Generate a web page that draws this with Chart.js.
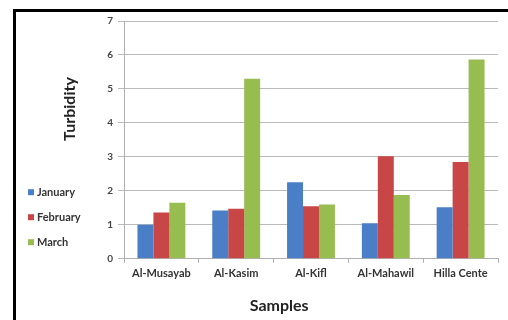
<!DOCTYPE html>
<html>
<head>
<meta charset="utf-8">
<script src="https://cdn.jsdelivr.net/npm/chart.js@4/dist/chart.umd.min.js"></script>
<style>
  html, body { margin: 0; padding: 0; background: #fff; }
  #wrap { position: relative; width: 508px; height: 320px; }
  #frame { position: absolute; left: 13px; top: 9px; right: -10px; bottom: -10px;
           border-left: 3px solid #000; border-top: 3px solid #000; pointer-events: none; }
</style>
</head>
<body>
<div id="wrap">
  <canvas id="chart" width="508" height="320"></canvas>
  <div id="frame"></div>
</div>
<script>
// Sampling sites along the river
const samples = ['Al-Musayab', 'Al-Kasim', 'Al-Kifl', 'Al-Mahawil', 'Hilla Cente'];

// Monthly turbidity readings per site
const january  = [1.0, 1.42, 2.25, 1.05, 1.52];
const february = [1.36, 1.47, 1.55, 3.02, 2.85];
const march    = [1.65, 5.3, 1.6, 1.88, 5.87];

const seriesNames = ['January', 'February', 'March'];
const seriesColors = ['#4a7ec6', '#c84646', '#97bd50'];

const yTicks = [0, 1, 2, 3, 4, 5, 6, 7];

const FONT = 'Lato, "Open Sans", sans-serif';

// Legend and axis titles drawn around the plot area
const decorations = {
  id: 'decorations',
  afterDraw(chart) {
    const { ctx, chartArea: a } = chart;
    ctx.save();
    // legend
    ctx.font = 'bold 11px ' + FONT;
    ctx.textBaseline = 'middle';
    ctx.textAlign = 'left';
    const lx = a.left - 96;
    const ly0 = a.top + (a.bottom - a.top) * 0.72;
    chart.data.datasets.forEach((ds, i) => {
      const y = ly0 + i * 25;
      ctx.fillStyle = ds.backgroundColor;
      ctx.fillRect(lx, y - 3, 6, 6);
      ctx.fillStyle = '#333';
      ctx.fillText(ds.label, lx + 9, y);
    });
    // y title
    ctx.font = 'bold 16px ' + FONT;
    ctx.fillStyle = '#222';
    ctx.textAlign = 'center';
    ctx.translate(a.left - 54, a.top + (a.bottom - a.top) * 0.37);
    ctx.rotate(-Math.PI / 2);
    ctx.fillText('Turbidity', 0, 0);
    ctx.restore();
    // x title
    ctx.save();
    ctx.font = 'bold 16px ' + FONT;
    ctx.fillStyle = '#222';
    ctx.textAlign = 'center';
    ctx.textBaseline = 'middle';
    ctx.fillText('Samples', a.left + (a.right - a.left) * 0.415, a.bottom + 47);
    ctx.restore();
  }
};

new Chart(document.getElementById('chart'), {
  type: 'bar',
  data: {
    labels: samples,
    datasets: [january, february, march].map((vals, i) => ({
      label: seriesNames[i],
      data: vals,
      backgroundColor: seriesColors[i],
      borderWidth: 0,
      barPercentage: 1.0,
      categoryPercentage: 0.64
    }))
  },
  options: {
    responsive: false,
    animation: false,
    layout: { padding: { left: 14, top: 21, right: 10, bottom: 36 } },
    plugins: { legend: { display: false }, tooltip: { enabled: false } },
    scales: {
      x: {
        grid: { display: true, drawOnChartArea: false, offset: true, color: '#b0b0b0', tickLength: 4, lineWidth: 1 },
        border: { color: '#b0b0b0', width: 1 },
        ticks: { color: '#333', font: { family: FONT, size: 11, weight: 'bold' }, padding: 4, maxRotation: 0, autoSkip: false }
      },
      y: {
        min: 0, max: 7,
        afterBuildTicks(scale) { scale.ticks = yTicks.map(v => ({ value: v })); },
        afterFit(scale) { scale.width = 110; },
        grid: { color: '#bababa', tickLength: 6, lineWidth: 1 },
        border: { color: '#b0b0b0', width: 1 },
        ticks: { color: '#444', font: { family: FONT, size: 10, weight: 'bold' }, padding: 5 }
      }
    }
  },
  plugins: [decorations]
});
</script>
</body>
</html>
